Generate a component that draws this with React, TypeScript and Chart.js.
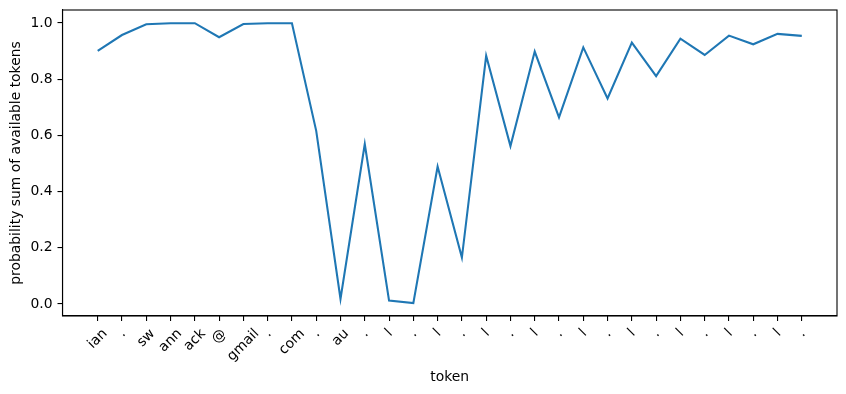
import React, { useEffect, useRef } from "react";
import { Chart, registerables } from "chart.js";

Chart.register(...registerables);

const tokens: string[] = [
  "ian", ".", "sw", "ann", "ack", "@", "gmail", ".", "com", ".",
  "au", ".", "l", ".", "l", ".", "l", ".", "l", ".",
  "l", ".", "l", ".", "l", ".", "l", ".", "l", ".",
];

const probSum: number[] = [
  0.901, 0.957, 0.995, 0.999, 0.999, 0.949, 0.996, 0.999, 0.999, 0.616,
  0.018, 0.569, 0.012, 0.003, 0.489, 0.165, 0.883, 0.562, 0.898, 0.664,
  0.913, 0.731, 0.930, 0.811, 0.944, 0.886, 0.955, 0.924, 0.961, 0.954,
];

const yTicks: number[] = [0, 0.2, 0.4, 0.6, 0.8, 1.0];

const FONT = "DejaVu Sans";
const FS = 13.9;

const frameAndLabels = {
  id: "frameAndLabels",
  afterDraw(chart: any) {
    const { ctx, chartArea } = chart;
    const xs = chart.scales.x;
    ctx.save();
    ctx.strokeStyle = "#000";
    ctx.lineWidth = 1.1;
    ctx.strokeRect(chartArea.left, chartArea.top, chartArea.right - chartArea.left, chartArea.bottom - chartArea.top);
    ctx.fillStyle = "#000";
    ctx.font = `${FS}px "${FONT}"`;
    ctx.textAlign = "center";
    ctx.textBaseline = "middle";
    const h = FS * 1.17;
    const top = chartArea.bottom + 4.9 + 4.9;
    tokens.forEach((t, i) => {
      const x = xs.getPixelForValue(i);
      const w = ctx.measureText(t).width;
      const half = (w + h) / (2 * Math.SQRT2);
      ctx.save();
      ctx.translate(x, top + half);
      ctx.rotate(-Math.PI / 4);
      ctx.fillText(t, 0, 0);
      ctx.restore();
    });
    ctx.restore();
  },
};

export default function App() {
  const ref = useRef<HTMLCanvasElement | null>(null);
  useEffect(() => {
    document.body.style.margin = "0";
    const chart = new Chart(ref.current as HTMLCanvasElement, {
      type: "line",
      data: {
        datasets: [
          {
            data: probSum.map((v, i) => ({ x: i, y: v })),
            borderColor: "#1f77b4",
            borderWidth: 2.08,
            pointRadius: 0,
            tension: 0,
            fill: false,
          },
        ],
      },
      options: {
        responsive: false,
        animation: false,
        layout: { padding: { top: 10, right: 9, left: 0, bottom: 0 } },
        plugins: { legend: { display: false }, tooltip: { enabled: false } },
        scales: {
          x: {
            type: "linear",
            min: -1.45,
            max: 30.45,
            afterBuildTicks: (s: any) => {
              s.ticks = tokens.map((_, i) => ({ value: i }));
            },
            afterFit: (s: any) => {
              s.height = 78;
              s.paddingLeft = 0;
              s.paddingRight = 0;
            },
            ticks: { display: false },
            grid: {
              display: true,
              drawOnChartArea: false,
              drawTicks: true,
              tickLength: 5,
              color: "#000",
              lineWidth: 1.1,
            },
            border: { display: true, color: "#000", width: 1.1 },
            title: {
              display: true,
              text: "token",
              color: "#000",
              font: { family: FONT, size: FS },
              padding: { top: 0, bottom: 8.5 },
            },
          },
          y: {
            type: "linear",
            min: -0.0427,
            max: 1.046,
            afterBuildTicks: (s: any) => {
              s.ticks = yTicks.map((v) => ({ value: v }));
            },
            afterFit: (s: any) => {
              s.width = 62.5;
              s.paddingTop = 0;
              s.paddingBottom = 0;
            },
            ticks: {
              color: "#000",
              font: { family: FONT, size: FS },
              padding: 4.9,
              callback: (v: any) => Number(v).toFixed(1),
            },
            grid: {
              display: true,
              drawOnChartArea: false,
              drawTicks: true,
              tickLength: 5,
              color: "#000",
              lineWidth: 1.1,
            },
            border: { display: true, color: "#000", width: 1.1 },
            title: {
              display: true,
              text: "probability sum of available tokens",
              color: "#000",
              font: { family: FONT, size: FS },
              padding: { top: 8.2, bottom: 0 },
            },
          },
        },
      },
      plugins: [frameAndLabels],
    } as any);
    return () => chart.destroy();
  }, []);
  return (
    <div style={{ position: "absolute", left: 0, top: 0, width: 846, height: 394, background: "#fff" }}>
      <canvas ref={ref} width={846} height={394} />
    </div>
  );
}
